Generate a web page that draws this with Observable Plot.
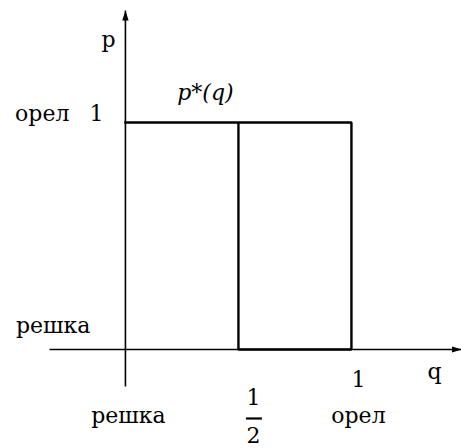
<!DOCTYPE html>
<html>
<head>
<meta charset="utf-8">
<script src="https://cdn.jsdelivr.net/npm/d3@7"></script>
<script src="https://cdn.jsdelivr.net/npm/@observablehq/plot@0.6"></script>
<style>
  html, body { margin: 0; padding: 0; background: #fff; }
</style>
</head>
<body>
<div id="chart"></div>
<script>
// ---- data ----
const qPath = [0, 1, 1, 0.5, 0.5];          // best-response outline, q values
const pPath = [1, 1, 0, 0, 1];              // best-response outline, p values
const xDomain = [-0.336, 1.487];
const yDomain = [-0.163, 1.493];
const xAxisTitle = "q";
const yAxisTitle = "p";
const curveLabel = "p*(q)";
const xTickValues = [1];
const xTickLabels = ["1"];
const xFractionValue = [0.5];
const xFractionNum = ["1"];
const xFractionDen = ["2"];
const xSideValues = [0, 1];
const xSideLabels = ["решка", "орел"];
const ySideValues = [0, 1];
const ySideLabels = ["решка", "орел"];
const yTickValues = [1];
const yTickLabels = ["1"];

// ---- helpers ----
const NS = "http://www.w3.org/2000/svg";
function filledArrow(color) {
  const m = document.createElementNS(NS, "marker");
  m.setAttribute("viewBox", "-10 -5 10 10");
  m.setAttribute("markerWidth", 10);
  m.setAttribute("markerHeight", 10);
  m.setAttribute("markerUnits", "userSpaceOnUse");
  m.setAttribute("orient", "auto");
  const p = document.createElementNS(NS, "path");
  p.setAttribute("d", "M-10,-3.2L0,0L-10,3.2Z");
  p.setAttribute("fill", color);
  p.setAttribute("stroke", "none");
  m.appendChild(p);
  return m;
}

const curve = qPath.map((q, i) => ({q, p: pPath[i]}));
const FONT = "DejaVu Serif";
const FS = 22;
const txt = {fontFamily: FONT, fontSize: FS, fill: "black", lineAnchor: "bottom"};
const at = (arr, i) => [arr[i]];

const chart = Plot.plot({
  width: 461,
  height: 448,
  marginLeft: 49,
  marginRight: 0,
  marginTop: 10,
  marginBottom: 62,
  style: {background: "white", overflow: "visible"},
  x: {domain: xDomain, axis: null},
  y: {domain: yDomain, axis: null},
  marks: [
    // axes with arrows
    Plot.link([0], {x1: xDomain[0], x2: xDomain[1], y1: 0, y2: 0,
      stroke: "black", strokeWidth: 1.6, markerEnd: filledArrow}),
    Plot.link([0], {x1: 0, x2: 0, y1: yDomain[0], y2: yDomain[1],
      stroke: "black", strokeWidth: 1.6, markerEnd: filledArrow}),
    // best-response outline
    Plot.line(curve, {x: "q", y: "p", stroke: "black", strokeWidth: 2.4,
      strokeLinejoin: "miter", strokeLinecap: "square"}),
    // axis titles
    Plot.text([yAxisTitle], {...txt, x: 0, y: yDomain[1], text: d => d, dx: -17, dy: 36}),
    Plot.text([xAxisTitle], {...txt, x: xDomain[1], y: 0, text: d => d, dx: -27, dy: 30}),
    // curve label
    Plot.text([curveLabel], {...txt, x: 0.5, y: 1, text: d => d, dx: -33, dy: -22,
      fontStyle: "italic"}),
    // x tick "1"
    Plot.text(xTickValues, {...txt, x: d => d, y: 0, text: (d, i) => xTickLabels[i], dx: 7, dy: 38}),
    // fraction 1/2
    Plot.text(xFractionValue, {...txt, x: d => d, y: 0, text: (d, i) => xFractionNum[i], dx: 15, dy: 56}),
    Plot.text(xFractionValue, {...txt, x: d => d, y: 0, text: (d, i) => xFractionDen[i], dx: 15, dy: 94}),
    Plot.ruleY(xFractionValue, {x1: d => d, x2: d => d, y: () => 0, dy: 69,
      insetLeft: 8, insetRight: -24, stroke: "black", strokeWidth: 2.2}),
    // x side labels
    Plot.text(at(xSideValues, 0), {...txt, x: d => d, y: 0, text: () => xSideLabels[0], dx: 3, dy: 74}),
    Plot.text(at(xSideValues, 1), {...txt, x: d => d, y: 0, text: () => xSideLabels[1], dx: 7, dy: 74}),
    // y side labels
    Plot.text(at(ySideValues, 0), {...txt, x: 0, y: d => d, text: () => ySideLabels[0],
      textAnchor: "end", dx: -35, dy: -16}),
    Plot.text(at(ySideValues, 1), {...txt, x: 0, y: d => d, text: () => ySideLabels[1],
      textAnchor: "end", dx: -56, dy: -1}),
    // y tick "1"
    Plot.text(yTickValues, {...txt, x: 0, y: d => d, text: (d, i) => yTickLabels[i],
      textAnchor: "end", dx: -22, dy: -1})
  ]
});
document.getElementById("chart").appendChild(chart);
</script>
</body>
</html>
